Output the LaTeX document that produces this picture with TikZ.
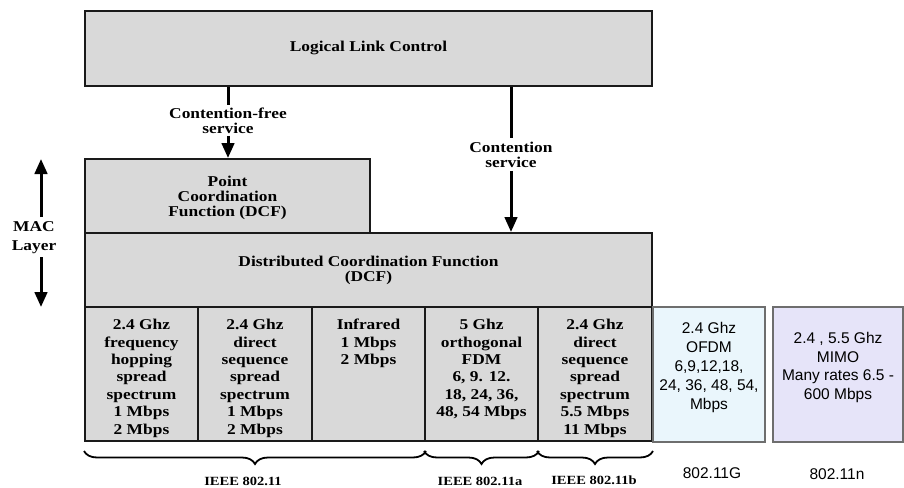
\documentclass[tikz,border=0pt]{standalone}
\usepackage{fontspec}
\setmainfont{Liberation Serif}
\newfontfamily\bserif{Liberation Serif}[FakeStretch=1.16]
\newfontfamily\sansf{Liberation Sans}
\usetikzlibrary{arrows.meta,decorations.pathreplacing}
\definecolor{boxgray}{HTML}{D9D9D9}
\definecolor{edge}{HTML}{1A1A1A}
\definecolor{gfill}{HTML}{EAF6FC}
\definecolor{nfill}{HTML}{E6E4F9}
\definecolor{thinedge}{HTML}{6E6E6E}
\begin{document}
\begin{tikzpicture}[x=1pt,y=-1pt,
  layerbox/.style={draw=edge, line width=2pt, fill=boxgray, inner sep=0pt},
  phybox/.style={draw=thinedge, line width=1.5pt, inner sep=0pt},
  lbl/.style={font=\bserif\bfseries\fontsize{15}{15}\selectfont, align=center, inner sep=0pt},
  coltext/.style={font=\bserif\bfseries\fontsize{15}{17.4}\selectfont, align=center, inner sep=0pt, anchor=north},
  sanstext/.style={font=\sansf\fontsize{15.5}{19}\selectfont, align=center, inner sep=0pt},
  stdlbl/.style={font=\bserif\bfseries\fontsize{12.5}{12.5}\selectfont, inner sep=0pt},
  flow/.style={line width=3pt, -{Triangle[length=15pt,width=12.5pt]}},
  bracestyle/.style={line width=1.8pt, decorate, decoration={brace, mirror, amplitude=13pt}}
]
\useasboundingbox (0,0) rectangle (904,487);

% protocol stack
\node[layerbox, minimum width=567pt, minimum height=75pt] (llc) at (368.5,48.5) {};
\node[lbl] (llctext) at (368.5,48) {Logical Link Control};
\node[layerbox, minimum width=285pt, minimum height=74pt] (pcf) at (227.5,196) {};
\node[lbl] (pcftext) at (227.5,198) {Point\\Coordination\\Function (DCF)};
\node[layerbox, minimum width=567pt, minimum height=74pt] (dcf) at (368.5,270) {};
\node[lbl] (dcftext) at (368.5,270.5) {Distributed Coordination Function\\(DCF)};

% physical layer columns
\node[layerbox, minimum width=113pt, minimum height=134pt] (c1) at (141.5,374) {};
\node[layerbox, minimum width=114pt, minimum height=134pt] (c2) at (255,374) {};
\node[layerbox, minimum width=113pt, minimum height=134pt] (c3) at (368.5,374) {};
\node[layerbox, minimum width=113pt, minimum height=134pt] (c4) at (481.5,374) {};
\node[layerbox, minimum width=114pt, minimum height=134pt] (c5) at (595,374) {};
\node[coltext] (t1) at (141.5,319) {2.4 Ghz\\frequency\\hopping\\spread\\spectrum\\1 Mbps\\2 Mbps};
\node[coltext] (t2) at (255,319) {2.4 Ghz\\direct\\sequence\\spread\\spectrum\\1 Mbps\\2 Mbps};
\node[coltext] (t3) at (368.5,319) {Infrared\\1 Mbps\\2 Mbps};
\node[coltext] (t4) at (481.5,319) {5 Ghz\\orthogonal\\FDM\\6, 9. 12.\\18, 24, 36,\\48, 54 Mbps};
\node[coltext] (t5) at (595,319) {2.4 Ghz\\direct\\sequence\\spread\\spectrum\\5.5 Mbps\\11 Mbps};

% later amendments
\node[phybox, fill=gfill, minimum width=112pt, minimum height=135pt] (g) at (709,374.5) {};
\node[sanstext, anchor=north] (gtext) at (709,322) {2.4 Ghz\\OFDM\\6,9,12,18,\\24, 36, 48, 54,\\Mbps};
\node[phybox, fill=nfill, minimum width=130pt, minimum height=135pt] (n) at (838,374.5) {};
\node[sanstext, anchor=north, font=\sansf\fontsize{15.5}{18.7}\selectfont] (ntext) at (838,332) {2.4 , 5.5 Ghz\\MIMO\\Many rates 6.5 -\\600 Mbps};

% service access arrows
\node[lbl, inner sep=2.5pt] (cf) at (228,120.4) {Contention-free\\service};
\draw[line width=3pt] (cf |- llc.south) -- (cf.north);
\draw[flow] (cf.south) -- (cf |- pcf.north);
\node[lbl, inner sep=3.5pt] (cs) at (511,154.4) {Contention\\service};
\draw[line width=3pt] (cs |- llc.south) -- (cs.north);
\draw[flow] (cs.south) -- (cs |- dcf.north);

% MAC layer extent
\node[lbl, font=\bserif\bfseries\fontsize{15}{19}\selectfont] (mac) at (34,237.5) {MAC\\Layer};
\coordinate (macUp) at (41,217);
\coordinate (macTop) at (41,159);
\coordinate (macDown) at (41,257);
\coordinate (macBot) at (41,307);
\draw[flow] (macUp) -- (macTop);
\draw[flow] (macDown) -- (macBot);

% standards braces
\draw[bracestyle] ([yshift=-9pt]c1.south west) -- ([yshift=-9pt]c3.south east);
\draw[bracestyle] ([yshift=-9pt]c4.south west) -- ([yshift=-9pt]c4.south east);
\draw[bracestyle] ([yshift=-9pt]c5.south west) -- ([yshift=-9pt]c5.south east);
\node[stdlbl] (s1) at (243,481) {IEEE 802.11};
\node[stdlbl] (s2) at (480,481) {IEEE 802.11a};
\node[stdlbl] (s3) at (594,480.5) {IEEE 802.11b};
\node[sanstext] (s4) at (712,473) {802.11G};
\node[sanstext] (s5) at (837,474) {802.11n};
\end{tikzpicture}
\end{document}
